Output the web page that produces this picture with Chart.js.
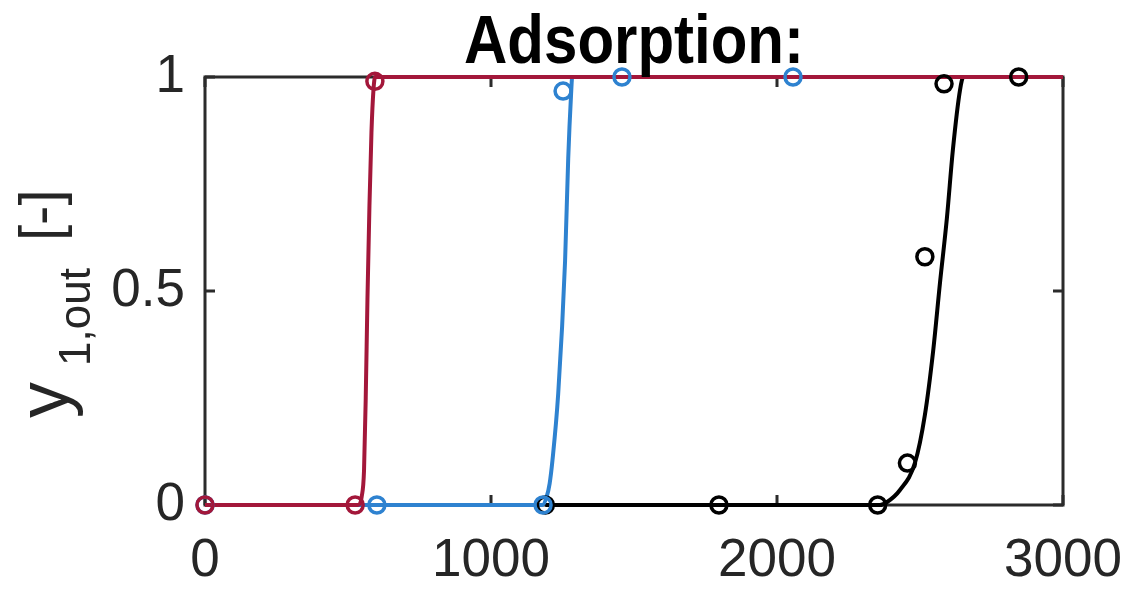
<!DOCTYPE html>
<html>
<head>
<meta charset="utf-8">
<script src="https://cdn.jsdelivr.net/npm/chart.js@4.4.1/dist/chart.umd.min.js"></script>
<style>
  body { margin: 0; background: #fff; }
  #wrap { width: 1143px; height: 601px; }
</style>
</head>
<body>
<div id="wrap"><canvas id="adsChart" width="1143" height="601"></canvas></div>
<script>
// tick labels
const xTicks = [0, 1000, 2000, 3000];
const yTicks = [0, 0.5, 1];

// measured points (open circles)
const redPtsX = [0, 525, 594];
const redPtsY = [0, 0, 0.99];
const bluePtsX = [0, 601, 1182, 1252, 1458, 2056];
const bluePtsY = [0, 0, 0, 0.967, 1, 1];
const blackPtsX = [1190, 1797, 2352, 2456, 2517, 2584, 2845];
const blackPtsY = [0, 0, 0, 0.098, 0.58, 0.984, 1];

// model curves
const redLineX = [0, 535, 548, 556, 562, 568, 575, 582, 589, 595, 3000];
const redLineY = [0, 0, 0.02, 0.08, 0.25, 0.48, 0.7, 0.87, 0.97, 1, 1];
const blueLineX = [0, 1180, 1195, 1205, 1215, 1235, 1259, 1270, 1280, 1284, 3000];
const blueLineY = [0, 0, 0.02, 0.05, 0.105, 0.26, 0.57, 0.81, 0.96, 1, 1];
const blackLineX = [1190, 2360, 2385, 2430, 2483, 2517, 2546, 2570, 2594, 2615, 2640, 2652, 3000];
const blackLineY = [0, 0, 0.007, 0.035, 0.1, 0.21, 0.36, 0.52, 0.67, 0.83, 0.97, 1, 1];

const RED = "#a3173a";
const BLUE = "#2e82d0";
const BLACK = "#000000";
const FONT = "'Liberation Sans', Arial, Helvetica, sans-serif";

function pts(xs, ys) {
    return xs.map((x, i) => ({ x: x, y: ys[i] }));
}

function markers(xs, ys, color) {
    return {
        data: pts(xs, ys),
        showLine: false,
        pointRadius: 8,
        pointHoverRadius: 8,
        pointBorderWidth: 3.5,
        pointBorderColor: color,
        pointBackgroundColor: "rgba(0,0,0,0)",
        clip: false,
    };
}

function curve(xs, ys, color) {
    return {
        data: pts(xs, ys),
        showLine: true,
        borderColor: color,
        borderWidth: 4,
        pointRadius: 0,
        cubicInterpolationMode: "monotone",
        clip: false,
    };
}

// box with inward ticks, like the original
const frame = {
    id: "frame",
    beforeDatasetsDraw(chart) {
        const { ctx, chartArea: a, scales } = chart;
        ctx.save();
        ctx.strokeStyle = "#2b2b2b";
        ctx.lineWidth = 3;
        ctx.strokeRect(a.left, a.top, a.right - a.left, a.bottom - a.top);
        ctx.beginPath();
        xTicks.forEach(v => {
            const px = scales.x.getPixelForValue(v);
            ctx.moveTo(px, a.bottom); ctx.lineTo(px, a.bottom - 10);
            ctx.moveTo(px, a.top); ctx.lineTo(px, a.top + 10);
        });
        yTicks.forEach(v => {
            const py = scales.y.getPixelForValue(v);
            ctx.moveTo(a.left, py); ctx.lineTo(a.left + 10, py);
            ctx.moveTo(a.right, py); ctx.lineTo(a.right - 10, py);
        });
        ctx.stroke();
        ctx.restore();
    },
    afterDraw(chart) {
        const { ctx, chartArea: a } = chart;
        ctx.save();
        // title (source image is a bit stretched vertically)
        ctx.fillStyle = "#000";
        ctx.font = "bold 60px " + FONT;
        ctx.textAlign = "center";
        ctx.textBaseline = "alphabetic";
        ctx.translate((a.left + a.right) / 2, 63);
        ctx.scale(1, 1.14);
        ctx.fillText("Adsorption:", 0, 0);
        ctx.restore();

        // y axis label with subscript
        ctx.save();
        ctx.fillStyle = "#262626";
        ctx.rotate(-Math.PI / 2);
        ctx.textAlign = "left";
        ctx.font = "72px " + FONT;
        ctx.fillText("y", -418, 68);
        ctx.font = "44px " + FONT;
        ctx.fillText("1,out", -366, 90);
        ctx.font = "58px " + FONT;
        ctx.fillText("[-]", -241, 60);
        ctx.restore();
    }
};

const tickFont = { family: FONT, size: 53 };

new Chart(document.querySelector("#adsChart").getContext("2d"), {
    type: "scatter",
    data: {
        datasets: [
            markers(redPtsX, redPtsY, RED),
            markers(bluePtsX, bluePtsY, BLUE),
            markers(blackPtsX, blackPtsY, BLACK),
            curve(redLineX, redLineY, RED),
            curve(blueLineX, blueLineY, BLUE),
            curve(blackLineX, blackLineY, BLACK),
        ],
    },
    options: {
        responsive: false,
        animation: false,
        layout: { padding: { top: 77, right: 80, left: 0, bottom: 0 } },
        plugins: {
            legend: { display: false },
            tooltip: { enabled: false },
        },
        scales: {
            x: {
                type: "linear",
                min: 0,
                max: 3000,
                afterBuildTicks: s => { s.ticks = xTicks.map(v => ({ value: v })); },
                afterFit: s => { s.height = 96; s.paddingLeft = 0; s.paddingRight = 0; },
                grid: { display: false, drawTicks: false },
                border: { display: false },
                ticks: { font: tickFont, color: "#262626", padding: 25, maxRotation: 0,
                         callback: v => String(v) },
            },
            y: {
                type: "linear",
                min: 0,
                max: 1,
                afterBuildTicks: s => { s.ticks = yTicks.map(v => ({ value: v })); },
                afterFit: s => { s.width = 205; s.paddingTop = 0; s.paddingBottom = 0; },
                grid: { display: false, drawTicks: false },
                border: { display: false },
                ticks: { font: tickFont, color: "#262626", padding: 20,
                          callback: v => String(v) },
            },
        },
    },
    plugins: [frame],
});
</script>
</body>
</html>
